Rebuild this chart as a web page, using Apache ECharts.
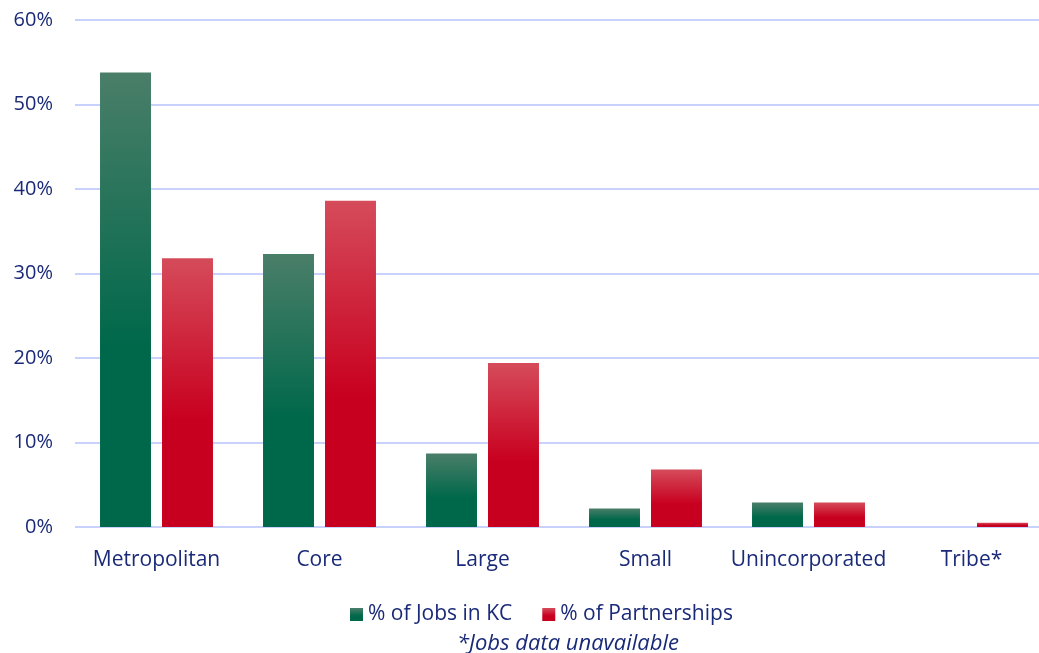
<!DOCTYPE html>
<html>
<head>
<meta charset="utf-8">
<script src="https://cdn.jsdelivr.net/npm/echarts@6/dist/echarts.min.js"></script>
<style>html,body{margin:0;padding:0;background:#fff;overflow:hidden;width:1039px;height:653px}#c{width:1053px;height:653px}</style>
</head>
<body>
<div id="c"></div>
<script>
const categories = ['Metropolitan', 'Core', 'Large', 'Small', 'Unincorporated', 'Tribe*'];
const jobsPct = [53.8, 32.3, 8.7, 2.2, 2.9, null];
const partnershipsPct = [31.8, 38.6, 19.4, 6.8, 2.9, 0.5];
const yTicks = [0, 10, 20, 30, 40, 50, 60];
const footnote = '*Jobs data unavailable';

const textColor = '#1a2a78';
const font = 'Open Sans';
function grad(top, bottom) {
  return new echarts.graphic.LinearGradient(0, 0, 0, 1, [
    {offset: 0, color: top}, {offset: 0.6, color: bottom}, {offset: 1, color: bottom}
  ]);
}
const chart = echarts.init(document.getElementById('c'));
chart.setOption({
  animation: false,
  textStyle: {fontFamily: font},
  grid: {left: 75, right: 0, top: 20, height: 507, containLabel: false},
  title: {
    text: footnote, left: 457, bottom: -2, padding: 0,
    textStyle: {fontFamily: font, fontStyle: 'italic', fontWeight: 'normal', fontSize: 22, color: textColor}
  },
  legend: {
    bottom: 28, left: 350, itemWidth: 13, itemHeight: 13, itemGap: 30,
    icon: 'rect', padding: 0,
    textStyle: {fontFamily: font, fontSize: 21, color: textColor},
    data: ['% of Jobs in KC', '% of Partnerships']
  },
  xAxis: {
    type: 'category', data: categories,
    axisLine: {show: false}, axisTick: {show: false},
    axisLabel: {color: textColor, fontSize: 21, margin: 23, interval: 0, fontFamily: font}
  },
  yAxis: {
    type: 'value', min: 0, max: 60, interval: 10,
    axisLabel: {color: textColor, fontSize: 20, margin: 22, fontFamily: font,
      formatter: v => yTicks.includes(v) ? v + '%' : ''},
    axisLine: {show: false}, axisTick: {show: false},
    splitLine: {lineStyle: {color: '#c8d2fc', width: 2}}
  },
  series: [
    {name: '% of Jobs in KC', type: 'bar', data: jobsPct, barCategoryGap: '30.7%', barGap: '21.6%',
     itemStyle: {color: grad('#4a7e69', '#00684a')}},
    {name: '% of Partnerships', type: 'bar', data: partnershipsPct, barCategoryGap: '30.7%', barGap: '21.6%',
     itemStyle: {color: grad('#d54b5a', '#c8001f')}}
  ]
});
</script>
</body>
</html>
